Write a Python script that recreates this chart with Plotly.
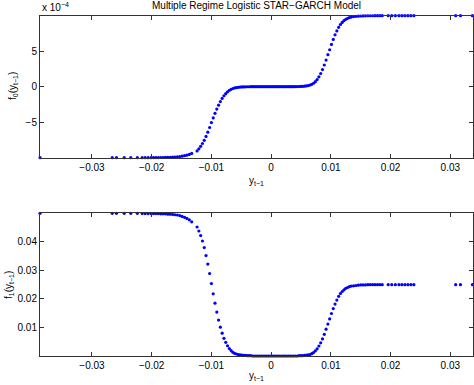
import plotly.graph_objects as go

# lagged return y_{t-1}
y_lag = [
    -0.0387, -0.0266, -0.0259, -0.0246, -0.0235, -0.0224, -0.0216, -0.0211, -0.0206, -0.0201,
    -0.0197, -0.0193, -0.0189, -0.0185, -0.0181, -0.0177, -0.0173, -0.0169, -0.0165, -0.0161,
    -0.0157, -0.0153, -0.0149, -0.0145, -0.0141, -0.0137, -0.0133,
    -0.0124, -0.0121, -0.0118, -0.0115, -0.0112, -0.0109, -0.0106, -0.0103, -0.0100, -0.0097,
    -0.0094, -0.0091, -0.0088, -0.0085, -0.0082, -0.0079, -0.0076, -0.0073, -0.0070, -0.0067,
    -0.0064,
    -0.0061, -0.0058, -0.0055, -0.0052, -0.0049, -0.0046, -0.0043, -0.0040, -0.0037, -0.0034,
    -0.0031, -0.0028, -0.0025, -0.0022, -0.0019, -0.0016, -0.0013, -0.0010, -0.0007, -0.0004,
    -0.0001, 0.0002, 0.0005, 0.0008, 0.0011, 0.0014, 0.0017, 0.0020, 0.0023, 0.0026,
    0.0029, 0.0032, 0.0035, 0.0038, 0.0041, 0.0044, 0.0047, 0.0050, 0.0053, 0.0056,
    0.0059, 0.0062,
    0.0065, 0.0068, 0.0071, 0.0074, 0.0077, 0.0080, 0.0083, 0.0086, 0.0089, 0.0092,
    0.0095, 0.0098, 0.0101, 0.0104, 0.0107, 0.0110, 0.0113, 0.0116, 0.0119, 0.0122,
    0.0125, 0.0128, 0.0131, 0.0134, 0.0138, 0.0142, 0.0146, 0.0150, 0.0154, 0.0158,
    0.0162, 0.0166, 0.0170, 0.0174, 0.0178, 0.0182, 0.0186,
    0.0196, 0.0202, 0.0208, 0.0214, 0.0219, 0.0224, 0.0229, 0.0234, 0.0239,
    0.0309, 0.0317, 0.0337,
]

# f_0(y_{t-1}) in units of 1e-4
f0_e4 = [
    -10.00, -10.00, -10.00, -10.00, -10.00, -9.99, -9.99, -9.99, -9.99, -9.99,
    -9.98, -9.98, -9.98, -9.97, -9.97, -9.96, -9.95, -9.94, -9.92, -9.90,
    -9.87, -9.83, -9.78, -9.72, -9.64, -9.54, -9.40,
    -9.05, -8.75, -8.40, -8.00, -7.55, -7.00, -6.40, -5.75, -5.05, -4.40,
    -3.75, -3.15, -2.60, -2.10, -1.65, -1.28, -0.98, -0.72, -0.52, -0.37,
    -0.26,
    -0.18, -0.13, -0.09, -0.06, -0.04, -0.03, -0.02, -0.01, -0.01, 0.00,
    0.00, 0.00, 0.00, 0.00, 0.00, 0.00, 0.00, 0.00, 0.00, 0.00,
    0.00, 0.00, 0.00, 0.00, 0.00, 0.00, 0.00, 0.00, 0.00, 0.00,
    0.00, 0.00, 0.00, 0.00, 0.01, 0.01, 0.02, 0.03, 0.05, 0.07,
    0.10, 0.15,
    0.22, 0.33, 0.48, 0.70, 1.00, 1.38, 1.85, 2.40, 3.05, 3.75,
    4.50, 5.20, 5.95, 6.65, 7.30, 7.85, 8.35, 8.75, 9.05, 9.30,
    9.48, 9.62, 9.72, 9.80, 9.86, 9.90, 9.93, 9.95, 9.96, 9.97,
    9.98, 9.98, 9.98, 9.99, 9.99, 9.99, 9.99,
    9.99, 9.99, 9.99, 9.99, 9.99, 9.99, 9.99, 9.99, 9.99,
    9.99, 9.99, 9.99,
]

# f_1(y_{t-1})
f1 = [
    0.0500, 0.0500, 0.0500, 0.0500, 0.0500, 0.0500, 0.0499, 0.0499, 0.0499, 0.0499,
    0.0499, 0.0499, 0.0499, 0.0498, 0.0498, 0.0498, 0.0497, 0.0497, 0.0496, 0.0495,
    0.0494, 0.0492, 0.0489, 0.0486, 0.0482, 0.0477, 0.0470,
    0.0452, 0.0438, 0.0422, 0.0403, 0.0380, 0.0352, 0.0322, 0.0289, 0.0254, 0.0218,
    0.0185, 0.0154, 0.0126, 0.0101, 0.0080, 0.0062, 0.0048, 0.0036, 0.0026, 0.0019,
    0.0013,
    0.0009, 0.0007, 0.0005, 0.0004, 0.0003, 0.0002, 0.0002, 0.0001, 0.0001, 0.0001,
    0.0000, 0.0000, 0.0000, 0.0000, 0.0000, 0.0000, 0.0000, 0.0000, 0.0000, 0.0000,
    0.0000, 0.0000, 0.0000, 0.0000, 0.0000, 0.0000, 0.0000, 0.0000, 0.0000, 0.0000,
    0.0000, 0.0000, 0.0000, 0.0000, 0.0000, 0.0000, 0.0001, 0.0001, 0.0001, 0.0002,
    0.0003, 0.0004,
    0.0005, 0.0008, 0.0012, 0.0018, 0.0025, 0.0035, 0.0046, 0.0060, 0.0076, 0.0094,
    0.0112, 0.0130, 0.0149, 0.0166, 0.0182, 0.0196, 0.0209, 0.0219, 0.0226, 0.0232,
    0.0237, 0.0240, 0.0243, 0.0245, 0.0246, 0.0247, 0.0248, 0.0249, 0.0249, 0.0249,
    0.0250, 0.0250, 0.0250, 0.0250, 0.0250, 0.0250, 0.0250,
    0.0250, 0.0250, 0.0250, 0.0250, 0.0250, 0.0250, 0.0250, 0.0250, 0.0250,
    0.0250, 0.0250, 0.0250,
]

x_ticks = [-0.03, -0.02, -0.01, 0, 0.01, 0.02, 0.03]
x_ticktext = ["\u22120.03", "\u22120.02", "\u22120.01", "0", "0.01", "0.02", "0.03"]
f0_ticks = [-5, 0, 5]
f0_ticktext = ["\u22125", "0", "5"]
f1_ticks = [0.01, 0.02, 0.03, 0.04]
f1_ticktext = ["0.01", "0.02", "0.03", "0.04"]

title_text = "Multiple Regime Logistic STAR\u2212GARCH Model"
FONT = "Liberation Sans, Arial, Helvetica, sans-serif"
BLUE = "#0000ff"

fig = go.Figure()
fig.add_trace(go.Scatter(x=y_lag, y=f0_e4, mode="markers", xaxis="x", yaxis="y",
                         marker=dict(color=BLUE, size=3.2, line=dict(width=0)),
                         cliponaxis=False, showlegend=False))
fig.add_trace(go.Scatter(x=y_lag, y=f1, mode="markers", xaxis="x2", yaxis="y2",
                         marker=dict(color=BLUE, size=3.2, line=dict(width=0)),
                         cliponaxis=False, showlegend=False))

W, H = 474, 385
xr = [-0.0387, 0.0338]
axis_common = dict(showline=True, linecolor="#333333", linewidth=1, mirror="ticks",
                   ticks="inside", ticklen=4, tickcolor="#333333", showgrid=False,
                   zeroline=False, automargin=False,
                   tickfont=dict(family=FONT, size=10, color="#000"))

dom_x = [40 / W, 473 / W]
top_dom = [1 - 157.7 / H, 1 - 15.7 / H]
bot_dom = [1 - 356 / H, 1 - 213.3 / H]

fig.update_layout(
    width=W, height=H,
    margin=dict(l=0, r=0, t=0, b=0, autoexpand=False),
    paper_bgcolor="white", plot_bgcolor="white",
    font=dict(family=FONT, size=10, color="#000"),
    xaxis=dict(domain=dom_x, range=xr, tickvals=x_ticks, ticktext=x_ticktext,
               anchor="y", **axis_common),
    yaxis=dict(domain=top_dom, range=[-10.0, 9.99], tickvals=f0_ticks, ticktext=f0_ticktext,
               anchor="x", **axis_common),
    xaxis2=dict(domain=dom_x, range=xr, tickvals=x_ticks, ticktext=x_ticktext,
                anchor="y2", **axis_common),
    yaxis2=dict(domain=bot_dom, range=[0, 0.05], tickvals=f1_ticks, ticktext=f1_ticktext,
                anchor="x2", **axis_common),
)

cx = (40 + 473) / 2 / W
ann = [
    dict(text=title_text, x=cx, y=1 - 5 / H, xanchor="center", yanchor="middle",
         font=dict(size=10)),
    dict(text="x 10<sup>\u22124</sup>", x=40 / W, y=1 - 7 / H, xanchor="left", yanchor="middle",
         font=dict(size=10)),
    dict(text="y<sub>t\u22121</sub>", x=cx, y=1 - 181 / H, xanchor="center", yanchor="middle",
         font=dict(size=10)),
    dict(text="y<sub>t\u22121</sub>", x=cx, y=1 - 376 / H, xanchor="center", yanchor="middle",
         font=dict(size=10)),
    dict(text="f<sub>0</sub>(y<sub>t\u22121</sub>)", x=13 / W, y=1 - 86 / H, textangle=-90,
         xanchor="center", yanchor="middle", font=dict(size=10)),
    dict(text="f<sub>1</sub>(y<sub>t\u22121</sub>)", x=9 / W, y=1 - 285 / H, textangle=-90,
         xanchor="center", yanchor="middle", font=dict(size=10)),
]
for a in ann:
    a.update(xref="paper", yref="paper", showarrow=False)
fig.update_layout(annotations=ann)

fig.write_html("out.html", config={"displayModeBar": False},
               post_script="document.body.style.margin='0';document.body.style.overflow='hidden';")
